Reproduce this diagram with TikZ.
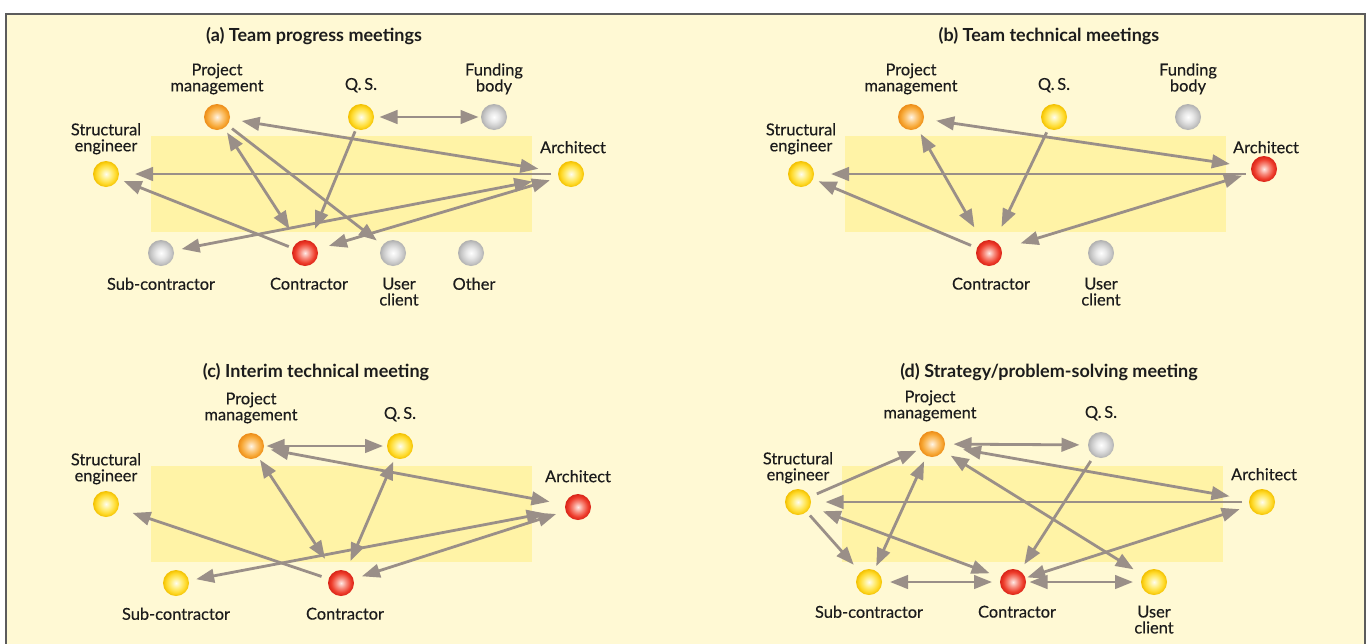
\documentclass[tikz,border=0pt]{standalone}
\usepackage{fontspec}
\setmainfont{Lato}[UprightFeatures={FakeBold=0.35}]
\usetikzlibrary{arrows.meta,positioning}
\definecolor{mtgcream}{HTML}{FFF9D4}
\definecolor{mtgzone}{HTML}{FFF3A6}
\definecolor{mtgframe}{HTML}{5C5C5C}
\definecolor{mtgarrow}{HTML}{9A8F88}
\definecolor{mtgink}{HTML}{1C1C1C}
\definecolor{ylwc}{HTML}{FFFDF0}
\definecolor{ylwm}{HTML}{FFEE80}
\definecolor{ylwb}{HTML}{FFD928}
\definecolor{ylwr}{HTML}{F2C000}
\definecolor{orgc}{HTML}{FFF5E6}
\definecolor{orgm}{HTML}{FCC97E}
\definecolor{orgb}{HTML}{F7A632}
\definecolor{orgr}{HTML}{EC8C18}
\definecolor{redc}{HTML}{FFEAE6}
\definecolor{redm}{HTML}{F78A7C}
\definecolor{redb}{HTML}{EE3C2B}
\definecolor{redr}{HTML}{D82418}
\definecolor{gryc}{HTML}{FFFFFF}
\definecolor{grym}{HTML}{E6E6E6}
\definecolor{gryb}{HTML}{C8C8C8}
\definecolor{gryr}{HTML}{B0B0B0}
\pgfdeclareradialshading{ballylw}{\pgfpoint{0bp}{0bp}}{color(0bp)=(ylwc); color(10bp)=(ylwm); color(19bp)=(ylwb); color(25bp)=(ylwr); color(50bp)=(ylwr)}
\pgfdeclareradialshading{ballorg}{\pgfpoint{0bp}{0bp}}{color(0bp)=(orgc); color(10bp)=(orgm); color(19bp)=(orgb); color(25bp)=(orgr); color(50bp)=(orgr)}
\pgfdeclareradialshading{ballred}{\pgfpoint{0bp}{0bp}}{color(0bp)=(redc); color(10bp)=(redm); color(19bp)=(redb); color(25bp)=(redr); color(50bp)=(redr)}
\pgfdeclareradialshading{ballgry}{\pgfpoint{0bp}{0bp}}{color(0bp)=(gryc); color(10bp)=(grym); color(19bp)=(gryb); color(25bp)=(gryr); color(50bp)=(gryr)}
\tikzset{
  ball/.style={circle, minimum size=26pt, inner sep=0pt, outer sep=0pt},
  yb/.style={ball, shading=ballylw},
  ob/.style={ball, shading=ballorg},
  rb/.style={ball, shading=ballred},
  gb/.style={ball, shading=ballgry},
  lbl/.style={font=\fontsize{16.4}{16}\selectfont, text=mtgink, align=center, inner sep=0pt},
  ttl/.style={font=\fontsize{18}{20}\selectfont\bfseries, text=mtgink, inner sep=0pt},
  zone/.style={fill=mtgzone},
  one/.style={-{Triangle[length=18pt,width=13.5pt]}, line width=2.8pt, color=mtgarrow},
  two/.style={{Triangle[length=18pt,width=13.5pt]}-{Triangle[length=18pt,width=13.5pt]}, line width=2.8pt, color=mtgarrow},
  sh/.style 2 args={shorten <=#1pt, shorten >=#2pt},
}
\begin{document}
\begin{tikzpicture}[x=1pt, y=-1pt]
  \useasboundingbox (0,0) rectangle (1369,643);
  \fill[white] (0,0) rectangle (1369,643);
  \fill[mtgcream] (6,14) rectangle (1365,650);
  \draw[mtgframe, line width=2pt] (6,650) -- (6,14) -- (1365,14) -- (1365,650);

  % (a) team progress meetings
  \fill[zone] (151,136) rectangle (532,232);
  \node[ttl, anchor=base] (ttla) at (314,41) {(a) Team progress meetings};
  \node[ob] (pma) at (217,117) {};
  \node[yb] (qsa) at (361,117) {};
  \node[gb] (fba) at (494,117) {};
  \node[yb] (sea) at (106,174) {};
  \node[yb] (ara) at (571,174) {};
  \node[gb] (sca) at (161,253) {};
  \node[rb] (coa) at (305,253) {};
  \node[gb] (uca) at (393,253) {};
  \node[gb] (ota) at (471,253) {};
  \node[lbl, above=9.5pt of pma] (lpma) {Project\\management};
  \node[lbl, above=11.5pt of qsa] (lqsa) {Q.\,S.};
  \node[lbl, above=9.5pt of fba] (lfba) {Funding\\body};
  \node[lbl, above=6.5pt of sea] (lsea) {Structural\\engineer};
  \node[lbl, above=7.5pt of ara, xshift=2pt] (lara) {Architect};
  \node[lbl, below=11.5pt of sca] (lsca) {Sub-contractor};
  \node[lbl, below=11.5pt of coa, xshift=4pt] (lcoa) {Contractor};
  \node[lbl, below=11.5pt of uca, xshift=6pt] (luca) {User\\client};
  \node[lbl, below=11.5pt of ota, xshift=3pt] (lota) {Other};
  \draw[two, sh={12}{20}] (pma) -- (ara);
  \draw[two, sh={5.5}{2.5}] (qsa) -- (fba);
  \draw[one, sh={7}{16}] (ara) -- (sea);
  \draw[two, sh={5.5}{15.5}] (pma) -- (coa);
  \draw[one, sh={6}{7.5}] (pma) -- (uca);
  \draw[one, sh={2.5}{13}] (qsa) -- (coa);
  \draw[one, sh={4.5}{6}] (coa) -- (sea);
  \draw[two, sh={8}{26.5}] (sca) -- (ara);
  \draw[two, sh={12}{9}] (coa) -- (ara);

  % (b) team technical meetings
  \fill[zone] (845,136) rectangle (1226,232);
  \node[ttl, anchor=base] (ttlb) at (1049,41) {(b) Team technical meetings};
  \node[ob] (pmb) at (911,117) {};
  \node[yb] (qsb) at (1054,117) {};
  \node[gb] (fbb) at (1188,117) {};
  \node[yb] (seb) at (801,174) {};
  \node[rb] (arb) at (1264,169) {};
  \node[rb] (cob) at (989,253) {};
  \node[gb] (ucb) at (1101,253) {};
  \node[lbl, above=9.5pt of pmb] (lpmb) {Project\\management};
  \node[lbl, above=11.5pt of qsb] (lqsb) {Q.\,S.};
  \node[lbl, above=9.5pt of fbb] (lfbb) {Funding\\body};
  \node[lbl, above=6.5pt of seb] (lseb) {Structural\\engineer};
  \node[lbl, above=2.5pt of arb, xshift=2pt] (larb) {Architect};
  \node[lbl, below=11.5pt of cob, xshift=2pt] (lcob) {Contractor};
  \node[lbl, below=11.5pt of ucb] (lucb) {User\\client};
  \draw[two, sh={12.5}{21.5}] (pmb) -- (arb);
  \draw[one, sh={5.5}{17}] (arb.west |- seb) -- (seb);
  \draw[two, sh={6.5}{16.5}] (pmb) -- (cob);
  \draw[one, sh={4}{16}] (qsb) -- (cob);
  \draw[one, sh={6.5}{6}] (cob) -- (seb);
  \draw[two, sh={20}{10}] (cob) -- (arb);

  % (c) interim technical meeting
  \fill[zone] (151,466) rectangle (532,562);
  \node[ttl, anchor=base] (ttlc) at (316,377) {(c) Interim technical meeting};
  \node[ob] (pmc) at (251,446) {};
  \node[yb] (qsc) at (400,446) {};
  \node[yb] (sec) at (106,504) {};
  \node[rb] (arc) at (578,507) {};
  \node[yb] (scc) at (176,583) {};
  \node[rb] (coc) at (341,583) {};
  \node[lbl, above=9.5pt of pmc] (lpmc) {Project\\management};
  \node[lbl, above=11.5pt of qsc] (lqsc) {Q.\,S.};
  \node[lbl, above=6.5pt of sec] (lsec) {Structural\\engineer};
  \node[lbl, above=11.5pt of arc] (larc) {Architect};
  \node[lbl, below=11.5pt of scc] (lscc) {Sub-contractor};
  \node[lbl, below=11.5pt of coc, xshift=4pt] (lcoc) {Contractor};
  \draw[two, sh={2.5}{4}] (pmc) -- (qsc);
  \draw[two, sh={7}{16}] (pmc) -- (arc);
  \draw[two, sh={3.5}{16}] (pmc) -- (coc);
  \draw[two, sh={4}{11}] (qsc) -- (coc);
  \draw[one, sh={7.5}{15}] (coc) -- (sec);
  \draw[two, sh={7.5}{21}] (scc) -- (arc);
  \draw[two, sh={9}{10}] (coc) -- (arc);

  % (d) strategy/problem-solving meeting
  \fill[zone] (842,466) rectangle (1223,562);
  \node[ttl, anchor=base] (ttld) at (1049,377) {(d) Strategy/problem-solving meeting};
  \node[ob] (pmd) at (932,444) {};
  \node[gb] (qsd) at (1101,445) {};
  \node[yb] (sed) at (798,502) {};
  \node[yb] (ard) at (1262,502) {};
  \node[yb] (scd) at (869,582) {};
  \node[rb] (cod) at (1013,582) {};
  \node[yb] (ucd) at (1154,582) {};
  \node[lbl, above=9.5pt of pmd, xshift=-2pt] (lpmd) {Project\\management};
  \node[lbl, above=11.5pt of qsd] (lqsd) {Q.\,S.};
  \node[lbl, above=5.5pt of sed] (lsed) {Structural\\engineer};
  \node[lbl, above=8.5pt of ard, xshift=2pt] (lard) {Architect};
  \node[lbl, below=10.5pt of scd] (lscd) {Sub-contractor};
  \node[lbl, below=10.5pt of cod, xshift=4pt] (lcod) {Contractor};
  \node[lbl, below=10.5pt of ucd] (lucd) {User\\client};
  \draw[two, sh={8.5}{8.5}] (pmd) -- (qsd);
  \draw[two, sh={18.5}{20}] (pmd) -- (ard);
  \draw[two, sh={9}{11}] (pmd) -- (ucd);
  \draw[one, sh={6}{8}] (qsd) -- (cod);
  \draw[one, sh={7}{14.5}] (ard) -- (sed);
  \draw[one, sh={7.5}{4}] (sed) -- (pmd);
  \draw[two, sh={4.5}{6}] (scd) -- (pmd);
  \draw[one, sh={5}{10}] (sed) -- (scd);
  \draw[two, sh={13.5}{12}] (sed) -- (cod);
  \draw[two, sh={8}{8}] (scd) -- (cod);
  \draw[two, sh={3.5}{8}] (cod) -- (ucd);
  \draw[two, sh={2}{10.5}] (cod) -- (ard);
\end{tikzpicture}
\end{document}
